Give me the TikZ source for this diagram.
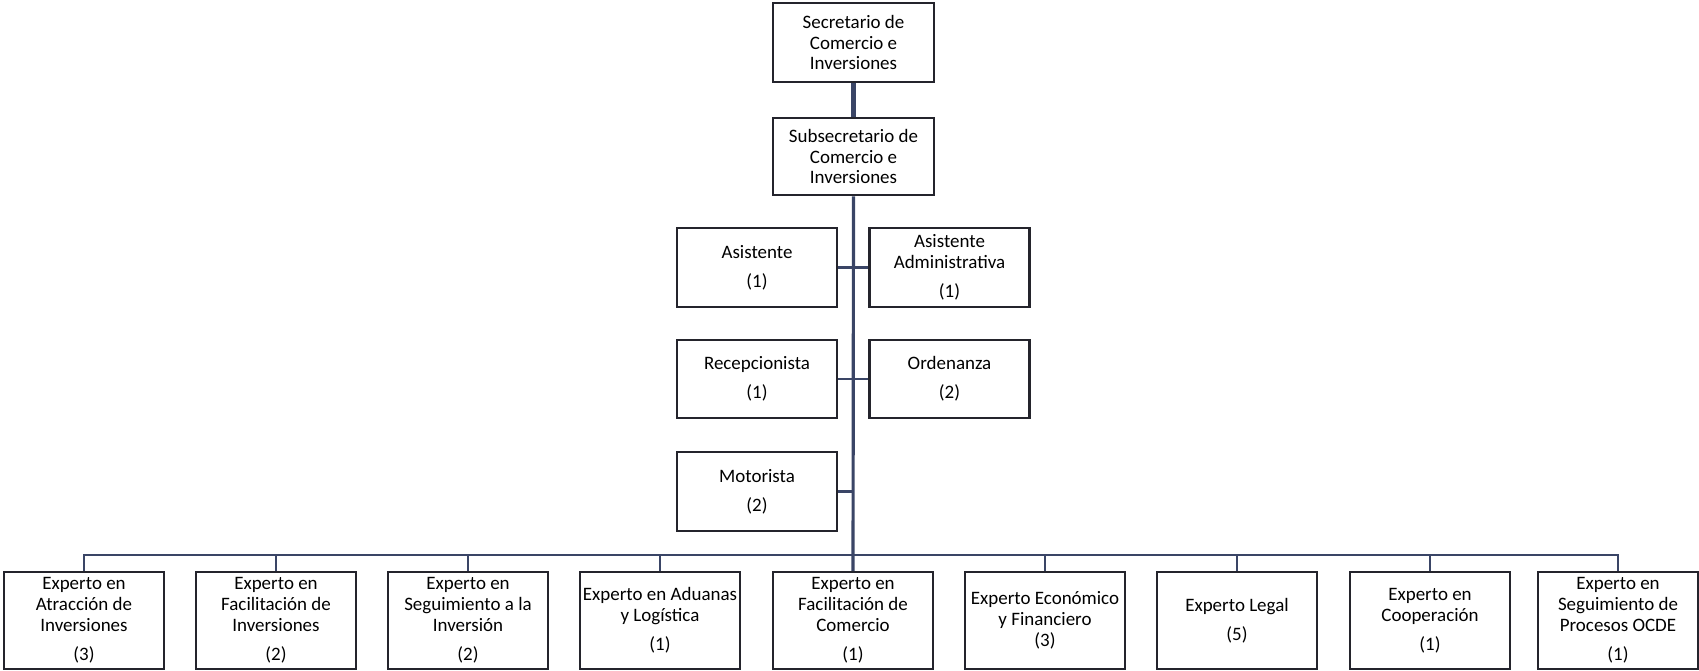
\documentclass[tikz,border=0pt]{standalone}
\usepackage{fontspec}
\setmainfont{Carlito}
\usepackage{xcolor}
\definecolor{boxline}{HTML}{24242C}
\definecolor{linkline}{HTML}{3A4566}

\begin{document}
\begin{tikzpicture}[x=0.02cm,y=-0.02cm,
  puesto/.style={draw=boxline,line width=1.4pt,align=center,inner sep=0pt,
    minimum width=3.2cm,minimum height=1.57cm,
    font=\fontsize{10.8}{11.9}\selectfont},
  experto/.style={puesto,minimum height=1.94cm},
  enlace/.style={draw=linkline,line width=1.4pt}]
\useasboundingbox (0,0) rectangle (1699,671);
\node[puesto,minimum width=3.22cm] (sec) at (853.5,42.5) {Secretario de\\Comercio e\\Inversiones};
\node[puesto,minimum width=3.22cm,minimum height=1.55cm] (sub) at (853.5,156.5) {Subsecretario de\\Comercio e\\Inversiones};
\node[puesto] (asis) at (757,267.5) {Asistente\\[4.5pt](1)};
\node[puesto] (adm) at (949.5,267.5) {Asistente\\Administrativa\\[4.5pt](1)};
\node[puesto] (recep) at (757,379) {Recepcionista\\[4.5pt](1)};
\node[puesto] (orden) at (949.5,379) {Ordenanza\\[4.5pt](2)};
\node[puesto] (motor) at (757,491.5) {Motorista\\[4.5pt](2)};
\node[experto] (e1) at (84,620.5) {Experto en\\Atracción de\\Inversiones\\[4.5pt](3)};
\node[experto] (e2) at (276,620.5) {Experto en\\Facilitación de\\Inversiones\\[4.5pt](2)};
\node[experto] (e3) at (468,620.5) {Experto en\\Seguimiento a la\\Inversión\\[4.5pt](2)};
\node[experto] (e4) at (660,620.5) {Experto en Aduanas\\y Logística\\[4.5pt](1)};
\node[experto] (e5) at (853,620.5) {Experto en\\Facilitación de\\Comercio\\[4.5pt](1)};
\node[experto] (e6) at (1045,620.5) {Experto Económico\\y Financiero\\(3)};
\node[experto] (e7) at (1237,620.5) {Experto Legal\\[4.5pt](5)};
\node[experto] (e8) at (1430,620.5) {Experto en\\Cooperación\\[4.5pt](1)};
\node[experto] (e9) at (1618,620.5) {Experto en\\Seguimiento de\\Procesos OCDE\\[4.5pt](1)};
\coordinate (bus) at (853,555);
\draw[enlace,line width=2.6pt] (sec.south) -- (sub.north);
\draw[enlace,line width=1.8pt] (sub.south) -- (e5.north);
\draw[enlace] (asis.east) -- (adm.west);
\draw[enlace] (recep.east) -- (orden.west);
\draw[enlace] (motor.east) -- (motor.east -| sub.south);
\draw[enlace] (e1.north) |- (bus) -| (e9.north);
\draw[enlace] (e2.north) -- (e2.north |- bus);
\draw[enlace] (e3.north) -- (e3.north |- bus);
\draw[enlace] (e4.north) -- (e4.north |- bus);
\draw[enlace] (e6.north) -- (e6.north |- bus);
\draw[enlace] (e7.north) -- (e7.north |- bus);
\draw[enlace] (e8.north) -- (e8.north |- bus);
\end{tikzpicture}
\end{document}
